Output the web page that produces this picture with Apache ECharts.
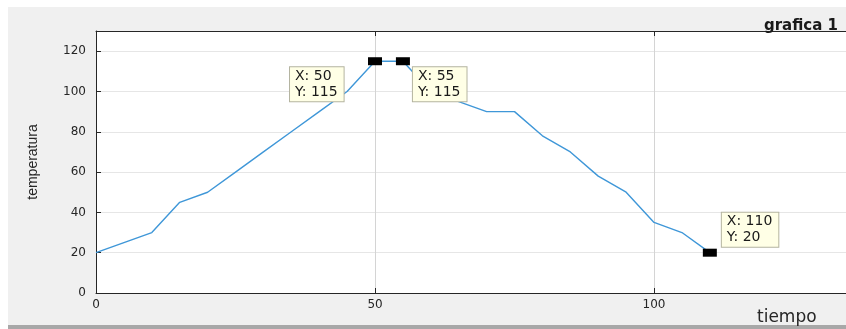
<!DOCTYPE html>
<html>
<head>
<meta charset="utf-8">
<script src="https://cdn.jsdelivr.net/npm/echarts@6/dist/echarts.min.js"></script>
<style>
  html, body { margin: 0; padding: 0; background: #fff; }
  #main { width: 846px; height: 329px; }
</style>
</head>
<body>
<div id="main"></div>
<script>
// datos
const tiempo = [0, 5, 10, 15, 20, 25, 30, 35, 40, 45, 50, 55, 60, 65, 70, 75, 80, 85, 90, 95, 100, 105, 110];
const temperatura = [20, 25, 30, 45, 50, 60, 70, 80, 90, 100, 115, 115, 100, 95, 90, 90, 78, 70, 58, 50, 35, 30, 20];
// data tips (marcadores negros)
const tipX = [50, 55, 110];
const tipY = [115, 115, 20];
const tipPos = [[-78, 10], [17, 10], [19, -36]];
const yTicks = [0, 20, 40, 60, 80, 100, 120];

const chart = echarts.init(document.getElementById('main'));

const axisTxt = { color: '#262626', fontFamily: 'DejaVu Sans', fontSize: 12 };

const option = {
  backgroundColor: '#fff',
  animation: false,
  title: {
    text: 'grafica 1',
    right: 3,
    top: 14,
    textStyle: { fontFamily: 'DejaVu Sans', fontWeight: 'bold', fontSize: 15, color: '#1a1a1a' }
  },
  graphic: [
    { type: 'rect', z: -10, shape: { x: 8, y: 7, width: 838, height: 318 }, style: { fill: '#f0f0f0' } },
    { type: 'rect', z: -10, shape: { x: 8, y: 325, width: 838, height: 4 }, style: { fill: '#a8a8a8' } },
    { type: 'text', left: 757, top: 309, style: { text: 'tiempo', font: '17px DejaVu Sans', fill: '#262626' } }
  ],
  grid: {
    left: 96, top: 31, right: 0, bottom: 36,
    show: true, backgroundColor: '#fff', borderWidth: 0
  },
  xAxis: [{
    type: 'value', min: 0, max: 134.4, interval: 50,
    axisLine: { lineStyle: { color: '#262626', width: 1 } },
    axisTick: { inside: true, length: 5, lineStyle: { color: '#262626' } },
    axisLabel: Object.assign({ margin: 6, showMaxLabel: false }, axisTxt),
    splitLine: { show: true, lineStyle: { color: '#d4d4d4', width: 1 } }
  }, {
    type: 'value', position: 'top', min: 0, max: 134.4, interval: 50,
    axisLine: { show: true, lineStyle: { color: '#262626', width: 1 } },
    axisTick: { inside: true, length: 5, lineStyle: { color: '#262626' } },
    axisLabel: { show: false },
    splitLine: { show: false }
  }],
  yAxis: {
    type: 'value', min: 0, max: 130, interval: 20,
    name: 'temperatura', nameLocation: 'middle', nameGap: 56,
    nameTextStyle: { fontFamily: 'Liberation Sans', fontSize: 14, color: '#262626' },
    axisLine: { show: true, lineStyle: { color: '#262626', width: 1 } },
    axisTick: { show: true, inside: true, length: 5, lineStyle: { color: '#262626' } },
    axisLabel: Object.assign({
      margin: 10, showMaxLabel: false,
      formatter: v => yTicks.indexOf(v) >= 0 ? String(v) : ''
    }, axisTxt),
    splitLine: { show: true, lineStyle: { color: '#e6e6e6', width: 1 } }
  },
  series: [{
    type: 'line',
    data: tiempo.map((t, i) => [t, temperatura[i]]),
    symbol: 'none',
    lineStyle: { color: '#3f97d8', width: 1.4 },
    z: 2
  }, {
    type: 'scatter',
    data: tipX.map((x, i) => ({
      value: [x, tipY[i]],
      label: { position: tipPos[i] }
    })),
    symbol: 'rect',
    symbolSize: [14, 8],
    itemStyle: { color: '#000', borderWidth: 0, opacity: 1 },
    label: {
      show: true,
      formatter: p => 'X: ' + p.value[0] + '\nY: ' + p.value[1],
      fontFamily: 'DejaVu Sans',
      fontSize: 14,
      lineHeight: 16,
      color: '#1a1a1a',
      backgroundColor: '#ffffe6',
      borderColor: '#b4b4a0',
      borderWidth: 1,
      padding: [1, 6, 1, 5]
    },
    z: 5
  }]
};

chart.setOption(option);
</script>
</body>
</html>
